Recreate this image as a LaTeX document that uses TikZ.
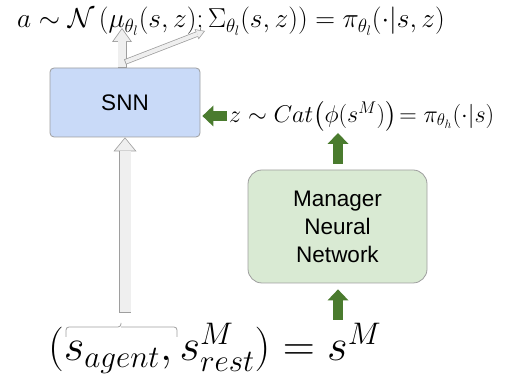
\RequirePackage{fix-cm}
\documentclass[tikz,border=0pt]{standalone}
\usepackage{amsmath}
\usepackage{fontspec}
\newfontfamily\arialfont{Liberation Sans}
\usetikzlibrary{arrows.meta}
\definecolor{snnblue}{HTML}{C9DAF8}
\definecolor{mgrgreen}{HTML}{D9EAD3}
\definecolor{arrgreen}{HTML}{4A7B2E}
\definecolor{linegray}{HTML}{9E9E9E}
\definecolor{hollowfill}{HTML}{EFEFEF}
\begin{document}
\begin{tikzpicture}[x=1pt,y=1pt,
  box/.style={draw=linegray, line width=0.8pt, align=center, font=\arialfont\fontsize{22.5}{28}\selectfont},
  greenarr/.style={draw=arrgreen, line width=10pt, -{Triangle[length=11pt,width=21pt,line width=0pt]}},
  hollow/.style n args={7}{draw=linegray, line width=#1, -{Triangle[length=#3,width=#2,line width=0pt]},
    postaction={draw=hollowfill, line width=#4, shorten <=0.8pt, shorten >=#7, -{Triangle[length=#6,width=#5,line width=0pt]}}},
  brace/.style={draw=linegray, line width=0.8pt, rounded corners=3pt}]
\useasboundingbox (0,0) rectangle (509,377);
% boxes
\node[box, fill=snnblue, minimum width=150pt, minimum height=69pt, rounded corners=4pt] (snn) at (125,274.5) {SNN};
\node[box, fill=mgrgreen, minimum width=179pt, minimum height=113pt, rounded corners=14pt] (mgr) at (337.5,150.5) {Manager\\Neural\\Network};
% formulas
\node[anchor=base west, inner sep=0, font=\fontsize{27.4}{32}\selectfont] (action) at (17,349) {$a \sim \mathcal{N}\,(\mu_{\theta_l}(s,z);\Sigma_{\theta_l}(s,z)) = \pi_{\theta_l}(\cdot|s,z)$};
\node[anchor=west, inner sep=0, font=\fontsize{24.2}{28}\selectfont] (zdist) at (229,261) {$z \sim Cat\bigl(\phi(s^M)\bigr)\!= \pi_{\theta_h}(\cdot|s)$};
\node[anchor=base west, inner sep=0, font=\fontsize{44.5}{50}\selectfont] (state) at (48,16) {$(s_{agent}, s^M_{rest}) = s^M$};
% free ends
\coordinate (mutip) at (122,349);
\coordinate (sigtail) at (125,315);
\coordinate (sigtip) at (205,346);
\coordinate (bl) at (66,40);
\coordinate (br) at (177,40);
\coordinate (bmid) at (121,50);
\coordinate (btip) at (121,54);
\coordinate (agentin) at (125,64);
\coordinate (mgrin) at (338,57);
\coordinate (mgrout) at (338,244);
% brace
\draw[brace] (bl) |- (bmid) -- (btip);
\draw[brace] (br) |- (bmid);
% hollow arrows
\draw[hollow={12.5pt}{23pt}{14pt}{11pt}{19.8pt}{12.1pt}{1.2pt}] (agentin) -- (snn.south);
\draw[hollow={9pt}{20pt}{14pt}{7.4pt}{16.9pt}{11.8pt}{1.4pt}] ([xshift=-3pt]snn.north) -- (mutip);
\draw[hollow={5.5pt}{11pt}{9pt}{4pt}{8.3pt}{6.8pt}{1.4pt}] (sigtail) -- (sigtip);
% green arrows
\draw[greenarr, shorten <=2pt, shorten >=2pt] (zdist.west) -- (zdist.west -| snn.east);
\draw[greenarr, shorten <=6pt] (mgr.north -| mgrout) -- (mgrout);
\draw[greenarr, shorten >=6pt] (mgrin) -- (mgrin |- mgr.south);
\end{tikzpicture}
\end{document}
